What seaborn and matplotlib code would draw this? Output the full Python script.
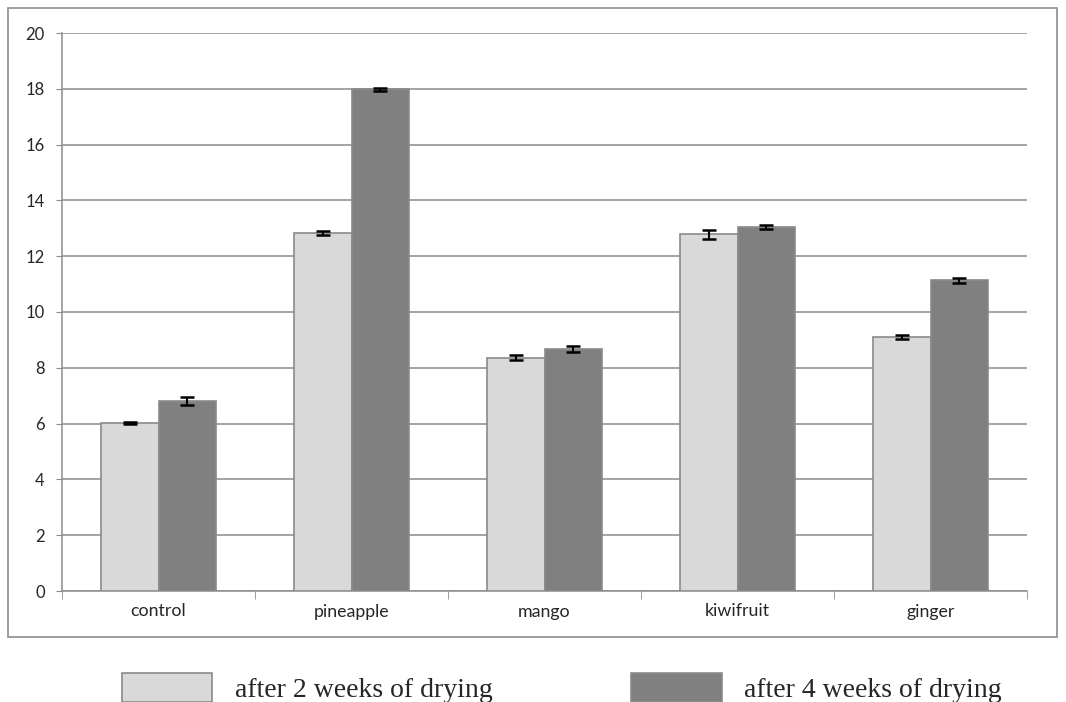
import matplotlib.pyplot as plt
import numpy as np
import pandas as pd
import seaborn as sns
from matplotlib.patches import Rectangle

# Datos
categories = ["control", "pineapple", "mango", "kiwifruit", "ginger"]
series_names = ["after 2 weeks of drying", "after 4 weeks of drying"]
week2 = [6.02, 12.82, 8.36, 12.78, 9.10]
week4 = [6.80, 17.98, 8.67, 13.04, 11.14]
err2 = [0.04, 0.07, 0.09, 0.15, 0.08]
err4 = [0.15, 0.06, 0.11, 0.08, 0.09]

df = pd.DataFrame({
    "category": categories * 2,
    "series": [series_names[0]] * 5 + [series_names[1]] * 5,
    "value": week2 + week4,
})
errors = [err2, err4]

sns.set_style("white")
plt.rcParams["font.family"] = ["Lato", "DejaVu Sans"]

grid_color = "#8c8c8c"
colors = ["#d9d9d9", "#808080"]

fig = plt.figure(figsize=(10.66, 7.02), dpi=100)
ax = fig.add_axes([62 / 1066, 111 / 702, 965 / 1066, 558 / 702])

sns.barplot(
    data=df, x="category", y="value", hue="series", order=categories,
    hue_order=series_names, palette=colors, width=0.6, errorbar=None,
    edgecolor="#8a8a8a", linewidth=1.2, legend=False, ax=ax, zorder=3,
)

# Barras de error
for cont, err in zip(ax.containers, errors):
    xs = [p.get_x() + p.get_width() / 2 for p in cont.patches]
    hs = [p.get_height() for p in cont.patches]
    ax.errorbar(xs, hs, yerr=err, fmt="none", ecolor="black", elinewidth=1.5,
                capsize=5, capthick=1.8, zorder=4)

ax.set_ylim(0, 20)
ax.set_xlim(-0.5, 4.5)
ax.set_yticks(np.arange(0, 21, 2))
ax.yaxis.grid(True, color=grid_color, linewidth=1.1, zorder=0)
ax.set_axisbelow(True)
ax.set_xlabel("")
ax.set_ylabel("")

for side in ["top", "right"]:
    ax.spines[side].set_visible(False)
for side in ["left", "bottom"]:
    ax.spines[side].set_color(grid_color)
    ax.spines[side].set_linewidth(1.1)

ax.tick_params(axis="y", which="major", direction="out", length=4.5, color=grid_color,
               labelsize=12, pad=8, left=True)
ax.tick_params(axis="x", which="major", length=0, labelsize=12.8, pad=9)
ax.set_xticks(np.arange(-0.5, 5, 1), minor=True)
ax.tick_params(axis="x", which="minor", direction="out", length=6, color=grid_color,
               bottom=True)

# Marco exterior
fig.patches.append(Rectangle((8 / 1066, 65 / 702), 1049 / 1066, 629 / 702,
                             transform=fig.transFigure, fill=False,
                             edgecolor=grid_color, linewidth=1.2))

# Leyenda
handles = [Rectangle((0, 0), 1, 1, facecolor=c, edgecolor="#8a8a8a", linewidth=1.2)
           for c in colors]
fig.legend(handles, series_names, loc="center", bbox_to_anchor=(0.527, 14 / 702),
           ncol=2, frameon=False, prop={"family": "Liberation Serif", "size": 20},
           handlelength=3.25, handleheight=1.2, handletextpad=0.8, columnspacing=5.0)

fig.savefig("out.png", dpi=100)
